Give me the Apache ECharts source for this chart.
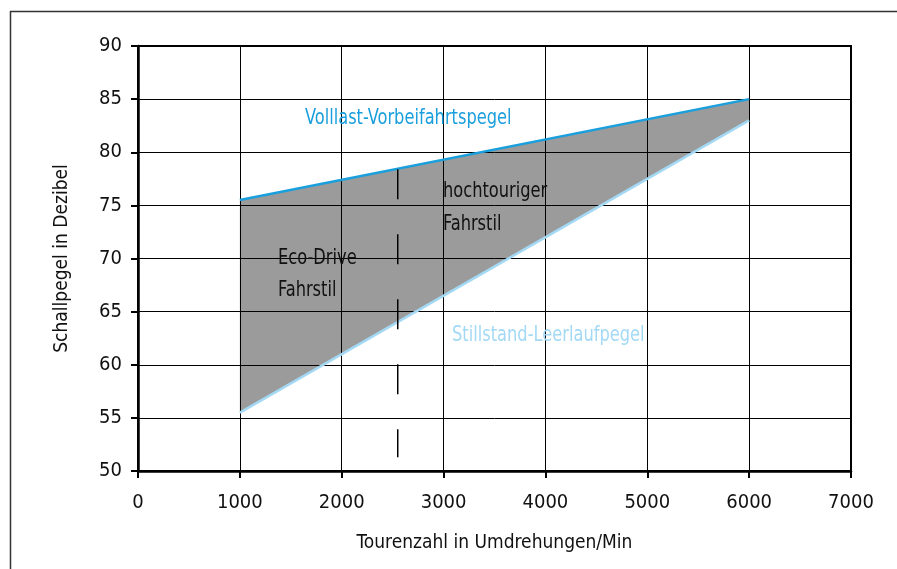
<!DOCTYPE html>
<html>
<head>
<meta charset="utf-8">
<script src="https://cdn.jsdelivr.net/npm/echarts@6/dist/echarts.min.js"></script>
<style>
html,body{margin:0;padding:0;background:#fff;}
#chart{width:897px;height:569px;}
</style>
</head>
<body>
<div id="chart"></div>
<script>
var rpm = [1000, 6000];
var vollast = [75.5, 85];
var stillstand = [55.5, 83];
var dashX = 2550;
var dashRange = [78.4, 51.3];
var xTicks = [0, 1000, 2000, 3000, 4000, 5000, 6000, 7000];
var yTicks = [50, 55, 60, 65, 70, 75, 80, 85, 90];

var FONT = '"DejaVu Sans Condensed", "DejaVu Sans", sans-serif';

var chart = echarts.init(document.getElementById('chart'), null, {renderer: 'canvas'});

function pairs(xs, ys) { return xs.map(function (x, i) { return [x, ys[i]]; }); }

var option = {
  animation: false,
  backgroundColor: '#fff',
  grid: {left: 138, top: 46, right: 46, bottom: 98, show: true, borderColor: '#000', borderWidth: 2, z: 3},
  xAxis: {
    type: 'value', min: xTicks[0], max: xTicks[xTicks.length - 1], interval: 1000,
    z: 3,
    name: 'Tourenzahl in Umdrehungen/Min', nameLocation: 'middle', nameGap: 63,
    nameTextStyle: {fontFamily: FONT, fontSize: 19, color: '#111'},
    axisLine: {show: true, onZero: false, lineStyle: {color: '#000', width: 2.5}},
    axisTick: {show: true, length: 7, lineStyle: {color: '#000', width: 2}},
    axisLabel: {fontFamily: FONT, fontSize: 20, color: '#111', margin: 22, formatter: function (v) { return String(v); }},
    splitLine: {show: true, lineStyle: {color: '#000', width: 1}}
  },
  yAxis: {
    type: 'value', min: yTicks[0], max: yTicks[yTicks.length - 1], interval: 5,
    z: 3,
    name: 'Schallpegel in Dezibel', nameLocation: 'middle', nameGap: 66, nameRotate: 90,
    nameTextStyle: {fontFamily: FONT, fontSize: 19, color: '#111'},
    axisLine: {show: true, onZero: false, lineStyle: {color: '#000', width: 2.5}},
    axisTick: {show: true, length: 7, lineStyle: {color: '#000', width: 2}},
    axisLabel: {fontFamily: FONT, fontSize: 20, color: '#111', margin: 16},
    splitLine: {show: true, lineStyle: {color: '#000', width: 1}}
  },
  series: [
    {
      type: 'custom', name: 'band', z: 1, silent: true,
      data: [0],
      renderItem: function (params, api) {
        var pts = [];
        for (var i = 0; i < rpm.length; i++) pts.push(api.coord([rpm[i], vollast[i]]));
        for (var j = rpm.length - 1; j >= 0; j--) pts.push(api.coord([rpm[j], stillstand[j]]));
        return {type: 'polygon', shape: {points: pts}, style: {fill: '#9b9b9b'}};
      }
    },
    {
      type: 'line', name: 'Stillstand-Leerlaufpegel', data: pairs(rpm, stillstand), symbol: 'none',
      lineStyle: {color: '#a3d9f5', width: 2.5}, z: 6
    },
    {
      type: 'line', name: 'Volllast-Vorbeifahrtspegel', data: pairs(rpm, vollast), symbol: 'none',
      lineStyle: {color: '#1a9fdd', width: 2.5}, z: 6
    },
    {
      type: 'line', name: 'dash', data: [[dashX, dashRange[0]], [dashX, dashRange[1]]], symbol: 'none',
      lineStyle: {color: '#000', width: 1.5, type: [30, 35]}, z: 6
    }
  ],
  graphic: [
    {type: 'line', shape: {x1: 10, y1: 11.5, x2: 897, y2: 11.5}, style: {stroke: '#333', lineWidth: 1.5}},
    {type: 'line', shape: {x1: 10.5, y1: 11, x2: 10.5, y2: 569}, style: {stroke: '#333', lineWidth: 1.5}},
    {type: 'text', x: 305, y: 119, scaleX: 0.86, z: 10, style: {text: 'Volllast-Vorbeifahrtspegel', font: '21px ' + FONT, fill: '#1a9fdd', verticalAlign: 'middle'}},
    {type: 'text', x: 452, y: 336, scaleX: 0.86, z: 10, style: {text: 'Stillstand-Leerlaufpegel', font: '21px ' + FONT, fill: '#a3d9f5', verticalAlign: 'middle'}},
    {type: 'text', x: 443, y: 192, scaleX: 0.86, z: 10, style: {text: 'hochtouriger', font: '21px ' + FONT, fill: '#111', verticalAlign: 'middle'}},
    {type: 'text', x: 443, y: 225, scaleX: 0.86, z: 10, style: {text: 'Fahrstil', font: '21px ' + FONT, fill: '#111', verticalAlign: 'middle'}},
    {type: 'text', x: 278, y: 259, scaleX: 0.86, z: 10, style: {text: 'Eco-Drive', font: '21px ' + FONT, fill: '#111', verticalAlign: 'middle'}},
    {type: 'text', x: 278, y: 291, scaleX: 0.86, z: 10, style: {text: 'Fahrstil', font: '21px ' + FONT, fill: '#111', verticalAlign: 'middle'}}
  ]
};
chart.setOption(option);
</script>
</body>
</html>
